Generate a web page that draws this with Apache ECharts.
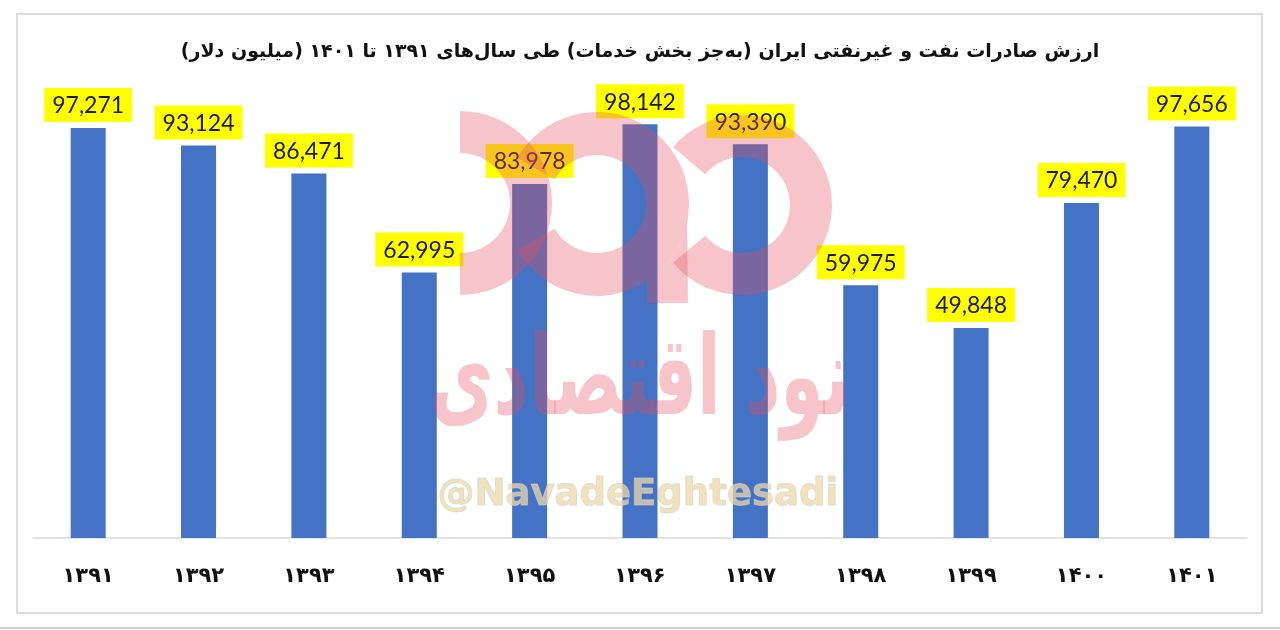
<!DOCTYPE html>
<html>
<head>
<meta charset="utf-8">
<script src="https://cdn.jsdelivr.net/npm/echarts@6/dist/echarts.min.js"></script>
<style>
html,body{margin:0;padding:0;background:#fff;}
#c{width:1280px;height:630px;}
</style>
</head>
<body>
<div id="c"></div>
<script>
var titleText = 'ارزش صادرات نفت و غیرنفتی ایران (به‌جز بخش خدمات) طی سال‌های ۱۳۹۱ تا ۱۴۰۱ (میلیون دلار)';
var categories = ['۱۳۹۱','۱۳۹۲','۱۳۹۳','۱۳۹۴','۱۳۹۵','۱۳۹۶','۱۳۹۷','۱۳۹۸','۱۳۹۹','۱۴۰۰','۱۴۰۱'];
var values = [97271, 93124, 86471, 62995, 83978, 98142, 93390, 59975, 49848, 79470, 97656];
var yMin = 0, yMax = 100000;

var pink = 'rgba(232,80,90,0.33)';
var D = Math.PI / 180;
// watermark logo tail polygon, following the outer edge of the middle ring
var tailPts = [];
(function () {
  var cx = 597, cy = 204, r = 92;
  for (var x = 647; x <= 688; x += 4) {
    tailPts.push([x, cy + Math.sqrt(Math.max(0, r * r - (x - cx) * (x - cx)))]);
  }
  tailPts.push([688, 303]);
  tailPts.push([647, 303]);
})();

var chart = echarts.init(document.getElementById('c'));
chart.setOption({
  backgroundColor: '#ffffff',
  animation: false,
  title: {
    text: titleText,
    left: 'center',
    top: 38,
    textStyle: {fontFamily: 'DejaVu Sans', fontSize: 19, fontWeight: 'bold', color: '#111'}
  },
  grid: {left: 33, right: 33, top: 116.5, bottom: 92},
  xAxis: {
    type: 'category',
    data: categories,
    axisLine: {lineStyle: {color: '#d9d9d9', width: 1.5}},
    axisTick: {show: false},
    axisLabel: {margin: 28, fontFamily: 'DejaVu Sans', fontSize: 21, fontWeight: 'bold', color: '#111'}
  },
  yAxis: {
    type: 'value', min: yMin, max: yMax,
    show: false, splitLine: {show: false}
  },
  series: [{
    type: 'bar',
    data: values,
    barWidth: 35,
    itemStyle: {color: '#4472c4'},
    label: {
      show: true,
      position: 'top',
      distance: 6,
      formatter: function(p){ return p.value.toLocaleString('en-US'); },
      backgroundColor: '#ffff00',
      padding: [6, 8, 4, 8],
      lineHeight: 24,
      fontFamily: 'Lato',
      fontSize: 23,
      color: '#1a1a1a'
    }
  }],
  graphic: [
    {type: 'rect', silent: true, z: -1, shape: {x: 17, y: 14, width: 1245, height: 599}, style: {fill: 'none', stroke: '#dcdcdc', lineWidth: 2}},
    {type: 'line', silent: true, shape: {x1: 0, y1: 628, x2: 1280, y2: 628}, style: {stroke: '#d0d0d0', lineWidth: 2}},
    {type: 'sector', silent: true, z: 100, shape: {cx: 460, cy: 203, r: 92, r0: 50, startAngle: -90 * D, endAngle: 90 * D, clockwise: true}, style: {fill: pink}},
    {type: 'sector', silent: true, z: 100, shape: {cx: 597, cy: 204, r: 92, r0: 49, startAngle: -150 * D, endAngle: 150 * D, clockwise: true}, style: {fill: pink}},
    {type: 'sector', silent: true, z: 100, shape: {cx: 742, cy: 205, r: 90, r0: 48, startAngle: -140 * D, endAngle: 140 * D, clockwise: true}, style: {fill: pink}},
    {type: 'polygon', silent: true, z: 100, shape: {points: tailPts}, style: {fill: pink}},
    {type: 'text', silent: true, z: 100, x: 430, y: 330, scaleX: 0.63, style: {text: 'نود اقتصادی', font: 'bold 110px "DejaVu Sans"', fill: pink, textVerticalAlign: 'top'}},
    {type: 'text', silent: true, z: 100, left: 437, top: 476, style: {text: '@NavadeEghtesadi', font: 'bold 37px "DejaVu Sans"', fill: 'rgba(235,215,170,0.75)', stroke: 'rgba(200,200,200,0.6)', lineWidth: 1}}
  ]
});
</script>
</body>
</html>
